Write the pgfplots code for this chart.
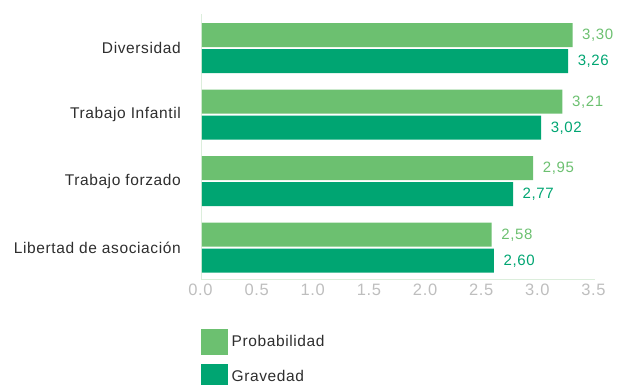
\documentclass[border=0pt]{standalone}
\usepackage{pgfplots}
\pgfplotsset{compat=1.18}
\usepackage{fontspec}
\setmainfont{Liberation Sans}[LetterSpace=4]
\definecolor{lg}{HTML}{6CC070}
\definecolor{dg}{HTML}{00A572}
\definecolor{tickgray}{HTML}{BEBEBE}
\definecolor{axisline}{HTML}{DCEEDC}
\definecolor{txt}{HTML}{2E2E2E}
\begin{document}
\begin{tikzpicture}
\begin{axis}[name=ax, xbar, scale only axis, width=393bp, height=266bp,
 xmin=0, xmax=3.5, ymin=-0.485, ymax=3.515,
 ytick={0,1,2,3},
 yticklabels={Libertad de asociación, Trabajo forzado, Trabajo Infantil, Diversidad},
 xtick={0,0.5,1,1.5,2,2.5,3,3.5},
 axis x line*=bottom, axis y line*=left,
 axis line style={draw=axisline, line width=1bp, -},
 tick style={draw=none}, major tick length=0pt,
 xticklabel style={font=\fontsize{16.5bp}{19bp}\selectfont, text=tickgray, inner sep=0pt, yshift=-4bp, xshift=-1.5bp,
   /pgf/number format/fixed, /pgf/number format/fixed zerofill, /pgf/number format/precision=1, /pgf/number format/assume math mode=true},
 yticklabel style={font=\fontsize{15.5bp}{18bp}\selectfont, text=txt, inner sep=0pt, xshift=-21bp},
 bar width=24bp,
 point meta=x,
 nodes near coords,
 nodes near coords style={font=\fontsize{15bp}{17bp}\selectfont, anchor=west, inner sep=0pt, xshift=9.5bp,
   /pgf/number format/fixed, /pgf/number format/fixed zerofill, /pgf/number format/precision=2, /pgf/number format/use comma, /pgf/number format/assume math mode=true},
 legend style={at={(0,0)}, anchor=north west, xshift=-1bp, yshift=-49bp, draw=none, fill=none, inner sep=0pt, row sep=9bp, font=\fontsize{15.5bp}{18bp}\selectfont, text=txt},
 legend cell align=left,
 clip=false,
 ]
\addplot[fill=lg, draw=none, bar shift=13bp, nodes near coords style={/tikz/text=lg}, forget plot]
 coordinates {(3.30,3) (3.21,2) (2.95,1) (2.58,0)};
\addplot[fill=dg, draw=none, bar shift=-13bp, nodes near coords style={/tikz/text=dg}, forget plot]
 coordinates {(3.26,3) (3.02,2) (2.77,1) (2.60,0)};
\addlegendimage{legend image code/.code={\fill[lg] (0bp,-12.5bp) rectangle (26bp,12.5bp); \path (28bp,0bp);}}
\addlegendentry{Probabilidad}
\addlegendimage{legend image code/.code={\fill[dg] (0bp,-12.5bp) rectangle (26bp,12.5bp); \path (28bp,0bp);}}
\addlegendentry{Gravedad}
\end{axis}
\pgfresetboundingbox
\path[use as bounding box] ([shift={(-202bp,-105bp)}]ax.south west) rectangle ([shift={(24bp,14bp)}]ax.north east);
\end{tikzpicture}
\end{document}
